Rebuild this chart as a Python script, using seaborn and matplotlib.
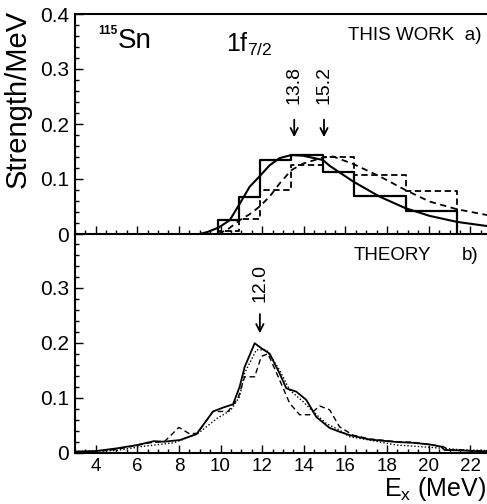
import numpy as np
import pandas as pd
import matplotlib
matplotlib.use("Agg")
import matplotlib.pyplot as plt
from matplotlib.ticker import MultipleLocator
import seaborn as sns

# ---------------- data ----------------
# (a) THIS WORK : histograms (bin edges in MeV, strength per MeV)
hist_edges = [9.9, 10.9, 11.9, 13.4, 14.9, 16.4, 18.9, 21.35]
hist_solid = [0.025, 0.068, 0.135, 0.144, 0.112, 0.069, 0.042]
hist_dashed = [0.006, 0.027, 0.080, 0.125, 0.140, 0.107, 0.078]

# (a) smooth fitted curves
fit_solid_x = [9.0, 9.4, 9.92, 10.44, 10.89, 11.4, 11.88, 12.36, 12.84, 13.4,
               13.96, 14.92, 15.24, 16.39, 17.64, 18.88, 20.04, 21.36, 22.8]
fit_solid_y = [0.0, 0.004, 0.012, 0.025, 0.053, 0.086, 0.105, 0.125, 0.138, 0.1436,
               0.1424, 0.1345, 0.124, 0.095, 0.068, 0.047, 0.033, 0.022, 0.0145]
fit_dashed_x = [9.9, 10.4, 10.92, 11.4, 11.88, 12.36, 12.84, 13.4, 13.96, 14.92,
                15.4, 16.39, 17.64, 18.88, 20.04, 21.36, 22.8]
fit_dashed_y = [0.0, 0.01, 0.025, 0.036, 0.05, 0.068, 0.092, 0.116, 0.128, 0.139,
                0.141, 0.127, 0.105, 0.08, 0.059, 0.045, 0.0345]

# (b) THEORY curves
th_solid_x = [3.0, 4.0, 5.04, 6.0, 6.8, 7.28, 8.05, 8.85, 9.64, 10.12, 10.6, 10.92,
              11.16, 11.64, 11.96, 12.36, 12.84, 13.16, 13.64, 14.12, 14.6, 15.24,
              15.72, 16.2, 17.16, 18.44, 19.24, 20.04, 20.6, 20.76, 21.64, 22.8]
th_solid_y = [0.002, 0.003, 0.008, 0.014, 0.021, 0.020, 0.023, 0.034, 0.075, 0.082,
              0.088, 0.12, 0.156, 0.199, 0.19, 0.18, 0.144, 0.117, 0.111, 0.096,
              0.065, 0.045, 0.038, 0.032, 0.024, 0.0195, 0.018, 0.015, 0.011, 0.005,
              0.004, 0.002]
th_dashed_x = [3.0, 4.0, 5.0, 6.6, 7.3, 8.0, 8.48, 8.88, 9.64, 10.36, 10.84, 11.16,
               11.64, 11.96, 12.28, 12.84, 13.32, 13.8, 14.28, 14.76, 15.24, 15.72,
               16.36, 17.16, 18.44, 19.24, 20.04, 20.7, 21.0, 21.6, 22.2, 22.8]
th_dashed_y = [0.002, 0.002, 0.006, 0.018, 0.02, 0.046, 0.035, 0.035, 0.075, 0.075,
               0.099, 0.138, 0.138, 0.175, 0.18, 0.132, 0.09, 0.069, 0.069, 0.085,
               0.078, 0.047, 0.032, 0.025, 0.02, 0.019, 0.015, 0.011, 0.005, 0.005,
               0.003, 0.004]
th_dotted_x = [3.0, 5.0, 6.16, 7.76, 8.88, 9.84, 10.48, 10.92, 11.16, 11.72, 12.2,
               12.84, 13.32, 13.96, 14.44, 15.08, 15.72, 16.2, 17.0, 18.44, 20.04,
               21.64, 22.8]
th_dotted_y = [0.002, 0.004, 0.011, 0.018, 0.034, 0.0625, 0.077, 0.102, 0.145, 0.187,
               0.187, 0.15, 0.114, 0.093, 0.075, 0.053, 0.041, 0.029, 0.024, 0.014,
               0.0098, 0.005, 0.004]

# centroid markers
centroids_a = ["13.8", "15.2"]
centroids_b = ["12.0"]

yticks_a = [0, 0.1, 0.2, 0.3, 0.4]
yticks_b = [0, 0.1, 0.2, 0.3]
ytick_labels_a = ["0", "0.1", "0.2", "0.3", "0.4"]
ytick_labels_b = ["0", "0.1", "0.2", "0.3"]
xticks = [4, 6, 8, 10, 12, 14, 16, 18, 20, 22]

# ---------------- style ----------------
sns.set_style("ticks")
plt.rcParams["font.family"] = ["Liberation Sans", "DejaVu Sans"]
plt.rcParams["mathtext.default"] = "regular"
for key in ("text.color", "axes.labelcolor", "xtick.color", "ytick.color",
            "axes.edgecolor"):
    plt.rcParams[key] = "black"

fig = plt.figure(figsize=(4.87, 5.04), dpi=100)
W, H = 487.0, 504.0
left = 74.8 / W
ax_a = fig.add_axes([left, 1 - 234 / H, 1 - left, (234 - 14) / H])
ax_b = fig.add_axes([left, 1 - 452.7 / H, 1 - left, (452.7 - 234) / H])


def hist_frame(edges, vals):
    xs = [edges[0]] + list(edges)
    ys = [0.0] + list(vals) + [0.0]
    return pd.DataFrame({"E": xs, "S": ys})


# panel a
sns.lineplot(data=hist_frame(hist_edges, hist_solid), x="E", y="S", ax=ax_a,
             estimator=None, sort=False, drawstyle="steps-post",
             color="black", lw=1.6)
sns.lineplot(data=hist_frame(hist_edges, hist_dashed), x="E", y="S", ax=ax_a,
             estimator=None, sort=False, drawstyle="steps-post",
             color="black", lw=1.3, linestyle=(0, (3.5, 2)))
sns.lineplot(x=fit_solid_x, y=fit_solid_y, ax=ax_a, estimator=None, sort=False,
             color="black", lw=1.5)
sns.lineplot(x=fit_dashed_x, y=fit_dashed_y, ax=ax_a, estimator=None, sort=False,
             color="black", lw=1.3, linestyle=(0, (3.5, 2.5)))

# panel b
sns.lineplot(x=th_solid_x, y=th_solid_y, ax=ax_b, estimator=None, sort=False,
             color="black", lw=1.3)
sns.lineplot(x=th_dashed_x, y=th_dashed_y, ax=ax_b, estimator=None, sort=False,
             color="black", lw=1.0, linestyle=(0, (4, 2.5)))
sns.lineplot(x=th_dotted_x, y=th_dotted_y, ax=ax_b, estimator=None, sort=False,
             color="black", lw=1.0, linestyle=(0, (1, 1.5)))

for ax in (ax_a, ax_b):
    ax.set_xlim(3, 22.8)
    ax.set_xlabel("")
    ax.set_ylabel("")
    ax.set_facecolor("white")
    ax.spines["right"].set_visible(False)
    for s in ("left", "bottom", "top"):
        ax.spines[s].set_linewidth(1.5)
        ax.spines[s].set_color("black")
    ax.set_xticks(xticks)
    ax.xaxis.set_minor_locator(MultipleLocator(0.5))
    ax.yaxis.set_minor_locator(MultipleLocator(0.02))
    ax.tick_params(axis="both", which="both", direction="in", top=False,
                   right=False, color="black", width=1.0)
    ax.tick_params(axis="both", which="major", length=6)
    ax.tick_params(axis="both", which="minor", length=3)
    ax.tick_params(axis="y", labelsize=15, pad=4)
    ax.tick_params(axis="x", labelsize=13.5, pad=4)

ax_a.set_ylim(0, 0.4)
ax_a.set_yticks(yticks_a, ytick_labels_a)
ax_a.tick_params(axis="x", labelbottom=False)
ax_b.set_ylim(0, 0.3976)
ax_b.set_yticks(yticks_b, ytick_labels_b)
ax_b.spines["top"].set_visible(False)
ax_a.set_zorder(3)
ax_a.patch.set_alpha(0)

# arrows & labels
arrow_kw = dict(arrowstyle="->", lw=1.3, color="black", mutation_scale=13,
                shrinkA=0, shrinkB=0)
for lab, xpos in zip(centroids_a, [13.54, 14.97]):
    ax_a.annotate("", xy=(xpos, 0.176), xytext=(xpos, 0.208), arrowprops=arrow_kw)
    ax_a.text(xpos, 0.271, lab, rotation=90, ha="center", va="center", fontsize=14)
for lab, xpos in zip(centroids_b, [11.89]):
    ax_b.annotate("", xy=(xpos, 0.217), xytext=(xpos, 0.252), arrowprops=arrow_kw)
    ax_b.text(xpos, 0.308, lab, rotation=90, ha="center", va="center", fontsize=14)

# texts
fig.text(98 / W, 1 - 31 / H, "115", fontsize=8.5, fontweight="bold",
         ha="left", va="center")
fig.text(118 / W, 1 - 41 / H, "Sn", fontsize=20, ha="left", va="center")
fig.text(226 / W, 1 - 44 / H, "1f$_{7/2}$", fontsize=18, ha="left", va="center")
fig.text(481 / W, 1 - 35 / H, "THIS WORK  a)", fontsize=13.5, ha="right",
         va="center")
fig.text(354 / W, 1 - 255 / H, "THEORY", fontsize=13.5, ha="left", va="center")
fig.text(478 / W, 1 - 255 / H, "b)", fontsize=13.5, ha="right", va="center")

fig.text(18 / W, 1 - 99 / H, "Strength/MeV", fontsize=21, rotation=90,
         ha="center", va="center")
fig.text(486 / W, 1 - 503 / H, "E$_{x}$ (MeV)", fontsize=18, ha="right",
         va="bottom")

fig.savefig("out.png", dpi=100, facecolor="white")
